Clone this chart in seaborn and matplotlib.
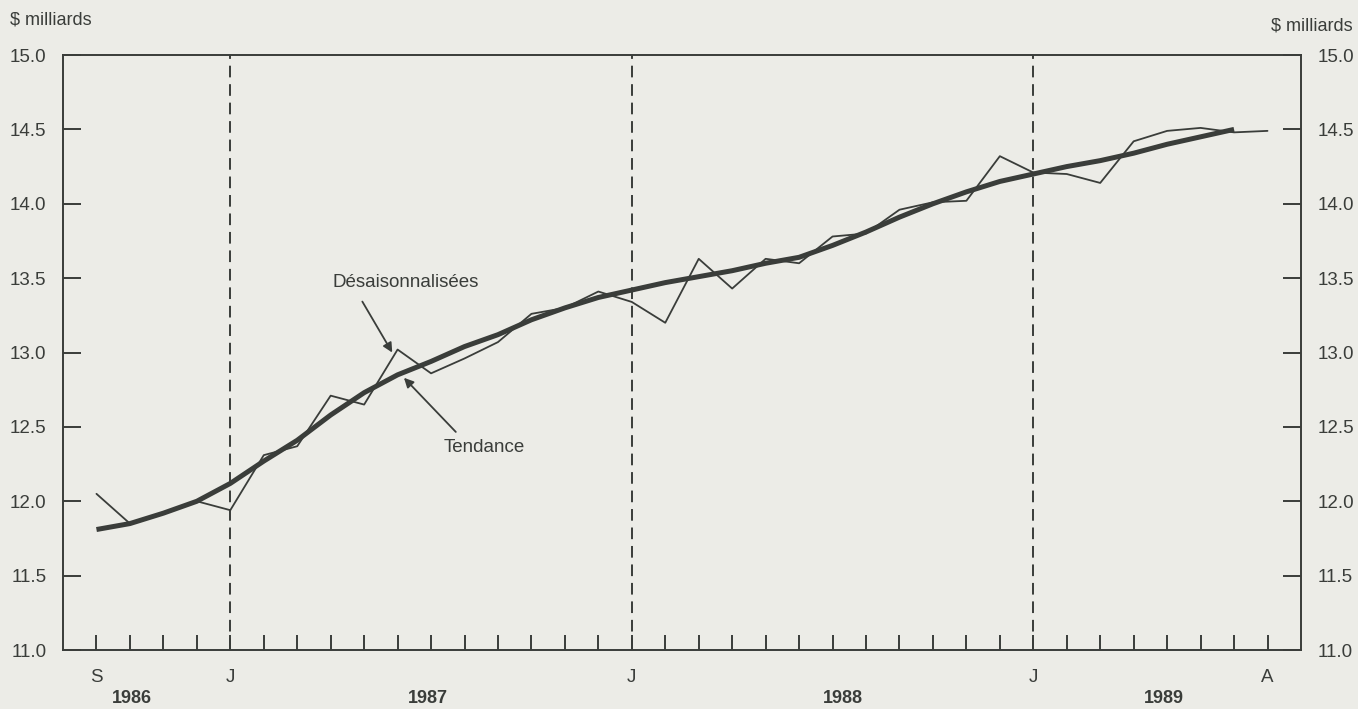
"""Monthly series, seasonally adjusted vs trend, Sept 1986 - Aug 1989."""
import matplotlib
matplotlib.use("Agg")
import matplotlib.pyplot as plt
import matplotlib.transforms as mtransforms
import pandas as pd
import seaborn as sns

# month index 0 = septembre 1986
months = list(range(36))
desaison = [12.05, 11.85, 11.92, 12.00, 11.94, 12.31, 12.37, 12.71, 12.65, 13.02,
            12.86, 12.96, 13.07, 13.26, 13.30, 13.41, 13.34, 13.20, 13.63, 13.43,
            13.63, 13.60, 13.78, 13.80, 13.96, 14.01, 14.02, 14.32, 14.21, 14.20,
            14.14, 14.42, 14.49, 14.51, 14.48, 14.49]
tendance = [11.81, 11.85, 11.92, 12.00, 12.12, 12.27, 12.41, 12.58, 12.73, 12.85,
            12.94, 13.04, 13.12, 13.22, 13.30, 13.37, 13.42, 13.47, 13.51, 13.55,
            13.60, 13.64, 13.72, 13.81, 13.91, 14.00, 14.08, 14.15, 14.20, 14.25,
            14.29, 14.34, 14.40, 14.45, 14.50]
month_labels = {0: "S", 4: "J", 16: "J", 28: "J", 35: "A"}
january_idx = [4, 16, 28]
years = ["1986", "1987", "1988", "1989"]
year_x = [1.07, 9.9, 22.3, 31.9]
y_ticks = [11.0, 11.5, 12.0, 12.5, 13.0, 13.5, 14.0, 14.5, 15.0]

INK = "#3a3d3a"
PAPER = "#ecece7"

sns.set_theme(style="white")
plt.rcParams["font.family"] = ["Liberation Sans", "DejaVu Sans"]


def main() -> None:
    df_sa = pd.DataFrame({"mois": months, "valeur": desaison})
    df_tr = pd.DataFrame({"mois": months[:len(tendance)], "valeur": tendance})

    fig = plt.figure(figsize=(13.58, 7.09), dpi=100, facecolor=PAPER)
    ax = fig.add_axes([0.0464, 0.0832, 0.9116, 0.8392])
    ax.set_facecolor(PAPER)

    # dashed separators at each January
    for m in january_idx:
        ax.axvline(m, color=INK, lw=1.4, ls=(0, (6, 3.5)), zorder=1)

    sns.lineplot(data=df_sa, x="mois", y="valeur", ax=ax, color=INK, lw=1.3, zorder=3)
    sns.lineplot(data=df_tr, x="mois", y="valeur", ax=ax, color=INK, lw=3.6, zorder=4,
                 solid_capstyle="butt")

    ax.set_xlim(-1, 36)
    ax.set_ylim(11.0, 15.0)
    ax.set_xlabel("")
    ax.set_ylabel("")

    ax.set_xticks(months)
    ax.set_xticklabels([month_labels.get(m, "") for m in months])
    ax.set_yticks(y_ticks)
    ax.set_yticklabels([f"{v:.1f}" for v in y_ticks])

    ax.tick_params(axis="x", direction="in", length=11, width=1.4, color=INK,
                   labelsize=13.5, labelcolor=INK, pad=14, bottom=True, top=False)
    ax.tick_params(axis="y", direction="in", length=13, width=1.4, color=INK,
                   labelsize=13.5, labelcolor=INK, pad=12,
                   left=True, right=True, labelleft=True, labelright=True)
    for side in ["left", "right", "top", "bottom"]:
        ax.spines[side].set_color(INK)
        ax.spines[side].set_linewidth(1.4)
        ax.spines[side].set_visible(True)

    trans = mtransforms.blended_transform_factory(ax.transData, ax.transAxes)
    for yr, xp in zip(years, year_x):
        ax.text(xp, -0.081, yr, transform=trans, ha="center", va="center",
                fontsize=13, fontweight="bold", color=INK)

    fig.text(0.0074, 0.972, "$ milliards", ha="left", va="center", fontsize=13, color=INK)
    fig.text(0.996, 0.963, "$ milliards", ha="right", va="center", fontsize=13, color=INK)

    ax.annotate("Désaisonnalisées", xy=(8.84, 13.00), xytext=(9.25, 13.47),
                ha="center", va="center", fontsize=13.5, color=INK,
                arrowprops=dict(arrowstyle="-|>", color=INK, lw=1.3,
                                shrinkA=6, shrinkB=0, mutation_scale=14,
                                relpos=(0.16, 0.0)))
    ax.annotate("Tendance", xy=(9.19, 12.83), xytext=(11.58, 12.36),
                ha="center", va="center", fontsize=13.5, color=INK,
                arrowprops=dict(arrowstyle="-|>", color=INK, lw=1.3,
                                shrinkA=4, shrinkB=0, mutation_scale=14,
                                relpos=(0.24, 1.0)))

    fig.savefig("out.png", dpi=100, facecolor=PAPER)
    plt.close(fig)


if __name__ == "__main__":
    main()
